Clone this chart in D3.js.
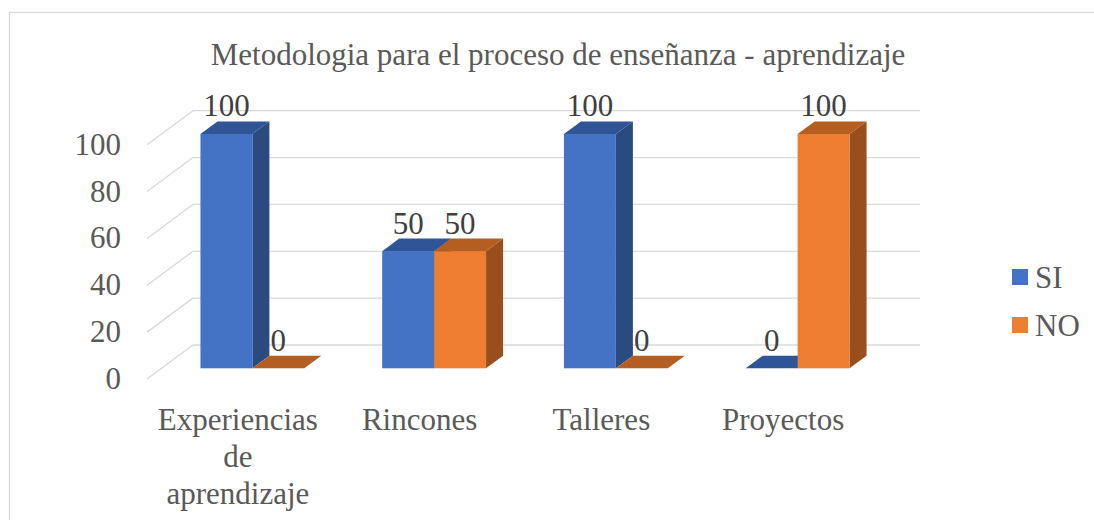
<!DOCTYPE html>
<html><head><meta charset="utf-8"><script src="https://cdn.jsdelivr.net/npm/d3@7"></script></head>
<body style="margin:0">
<script>
// chart data
const categories = [["Experiencias", "de", "aprendizaje"], ["Rincones"], ["Talleres"], ["Proyectos"]];
const seriesNames = ["SI", "NO"];
const siValues = [100, 50, 100, 0];
const noValues = [0, 50, 0, 100];
const yTicks = [0, 20, 40, 60, 80, 100];
const title = "Metodologia para el proceso de enseñanza - aprendizaje";

const W = 1094, H = 520;
const fs = 31;

// colours: front, top, side
const palette = {
  SI: { front: "#4472C4", top: "#2F5597", side: "#2A4A80" },
  NO: { front: "#ED7D31", top: "#B45E22", side: "#994F1D" }
};

const svg = d3.select("body").append("svg")
  .attr("width", W)
  .attr("height", H)
  .style("display", "block");

// every text in the chart shares the font
function label(sel) {
  return sel.attr("font-size", fs)
    .style("font-family", "\"Liberation Serif\"");
}

// chart border
svg.append("rect")
  .attr("x", 9.5).attr("y", 12.5)
  .attr("width", W + 10).attr("height", H + 10)
  .attr("fill", "none")
  .attr("stroke", "#d9d9d9")
  .attr("stroke-width", 1.3);

// back wall scales
const x = d3.scaleBand()
  .domain(d3.range(categories.length))
  .range([193, 920]);

const y = d3.scaleLinear().domain([0, 100]).range([345, 110.7]);

// depth direction (back wall -> front edge)
const depth = [-46, 34];
const off = function(t) { return [depth[0] * t, depth[1] * t]; };
const tBack = 0.315, tFront = 0.685;

// bars inside a band: gap width 150%
const inner = d3.scaleBand()
  .domain(seriesNames)
  .range([0, x.bandwidth()])
  .paddingOuter(0.75)
  .paddingInner(0);

// gridlines on back wall + side wall diagonals
const grid = svg.append("g");
yTicks.forEach(function(v) {
  grid.append("line")
    .attr("x1", x.range()[0]).attr("x2", x.range()[1])
    .attr("y1", y(v)).attr("y2", y(v))
    .attr("stroke", "#d9d9d9").attr("stroke-width", 1.3);
  const f = off(1);
  grid.append("line")
    .attr("x1", x.range()[0]).attr("y1", y(v))
    .attr("x2", x.range()[0] + f[0]).attr("y2", y(v) + f[1])
    .attr("stroke", "#d9d9d9").attr("stroke-width", 1.3);
});

// y axis labels at front edge
yTicks.forEach(function(d) {
  svg.append("text")
    .call(label)
    .attr("x", 121)
    .attr("y", y(d) + off(1)[1] + 10)
    .attr("text-anchor", "end")
    .attr("fill", "#595959")
    .text(d);
});

// bars
const bars = svg.append("g");
const pts = function(a) { return a.map(function(p) { return p.join(","); }).join(" "); };
const dataLabels = [];

categories.forEach(function(c, i) {
  [siValues[i], noValues[i]].forEach(function(v, s) {
    const name = seriesNames[s];
    const col = palette[name];
    const bx0 = x(i) + inner(name);
    const bx1 = bx0 + inner.bandwidth();
    const b = off(tBack), f = off(tFront);
    const yb0 = y(0), yv = y(v);

    const fl = bx0 + f[0], fr = bx1 + f[0];
    const bl = bx0 + b[0], br = bx1 + b[0];
    const fTop = yv + f[1], fBot = yb0 + f[1];
    const bTop = yv + b[1], bBot = yb0 + b[1];

    if (v > 0) {
      // side
      bars.append("polygon")
        .attr("points", pts([[fr, fTop], [br, bTop], [br, bBot], [fr, fBot]]))
        .attr("fill", col.side);
      // front
      bars.append("rect")
        .attr("x", fl).attr("y", fTop)
        .attr("width", fr - fl).attr("height", fBot - fTop)
        .attr("fill", col.front);
    }
    // top
    bars.append("polygon")
      .attr("points", pts([[fl, fTop], [bl, bTop], [br, bTop], [fr, fTop]]))
      .attr("fill", col.top);

    dataLabels.push({ x: (fl + fr) / 2, y: fTop - 27.5, v: v });
  });
});

dataLabels.forEach(function(d) {
  svg.append("text")
    .call(label)
    .attr("x", d.x)
    .attr("y", d.y + 10)
    .attr("text-anchor", "middle")
    .attr("fill", "#404040")
    .text(d.v);
});

// category labels at front edge
categories.forEach(function(c, i) {
  const cx = x(i) + x.bandwidth() / 2 + off(1)[0];
  c.forEach(function(line, k) {
    svg.append("text")
      .call(label)
      .attr("x", cx)
      .attr("y", 430 + k * 37)
      .attr("text-anchor", "middle")
      .attr("fill", "#595959")
      .text(line);
  });
});

// title
svg.append("text")
  .call(label)
  .attr("x", 558)
  .attr("y", 65)
  .attr("text-anchor", "middle")
  .attr("fill", "#595959")
  .text(title);

// legend
seriesNames.forEach(function(n, k) {
  const ly = 277 + k * 48;
  svg.append("rect")
    .attr("x", 1012).attr("y", ly - 8)
    .attr("width", 16).attr("height", 16)
    .attr("fill", palette[n].front);
  svg.append("text")
    .call(label)
    .attr("x", 1035).attr("y", ly + 11)
    .attr("fill", "#595959")
    .text(n);
});
</script>
</body>
</html>
